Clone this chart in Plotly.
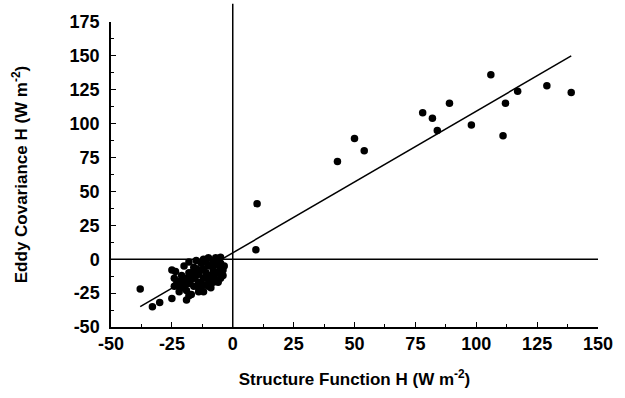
import plotly.graph_objects as go

# Scatter points (Structure Function H, Eddy Covariance H)
sf_h = [43, 50, 54, 78, 82, 84, 89, 98, 106, 111, 112, 117, 129, 139,
        10, 9.5,
        -38, -33, -30, -25, -19, -23.5, -5,
        -25, -24, -23, -22, -21, -20, -20, -19, -18, -18, -17, -16, -16,
        -15, -15, -14, -14, -13, -13, -12, -12, -11, -11, -10, -10, -10,
        -9, -9, -8, -8, -7, -7, -6, -6, -5, -4, -13, -17, -12, -22, -8,
        -21, -19, -17, -15, -13, -11, -9, -7, -5, -4, -6, -8, -10, -12,
        -14, -16, -18, -20, -22, -24, -11, -9, -7, -14, -16, -5, -3.5, -18]
ec_h = [72, 89, 80, 108, 104, 95, 115, 99, 136, 91, 115, 124, 128, 123,
        41, 7,
        -22, -35, -32, -29, -30, -9, 1.5,
        -8, -14, -18, -20, -12, -5, -17, -23, -10, -2, -15, -20, -6,
        -1, -12, -17, -24, -8, -3, -14, 0, -10, -19, -5, -15, 1,
        -12, -21, -8, -2, -15, -4, -10, 0, -7, -12, -22, -26, -24, -16, -17,
        -16, -14, -10, -7, -18, -13, -16, -10, -3, -8, -17, -12, -20, -7,
        -11, -14, -18, -21, -24, -20, -2, -4, 1, -21, -9, -14, -5, -27]

# Regression line end points
fit_x = [-38, 139]
fit_y = [-35, 150]

x_ticks = [-50, -25, 0, 25, 50, 75, 100, 125, 150]
y_ticks = [-50, -25, 0, 25, 50, 75, 100, 125, 150, 175]

font_family = "Liberation Sans, Arial, sans-serif"

fig = go.Figure()
fig.add_trace(go.Scatter(x=fit_x, y=fit_y, mode="lines",
                         line=dict(color="black", width=1.5), showlegend=False))
fig.add_trace(go.Scatter(x=sf_h, y=ec_h, mode="markers",
                         marker=dict(color="black", size=7.5), showlegend=False))

# zero lines
fig.add_shape(type="line", xref="x", yref="y", x0=-50, x1=150, y0=0, y1=0,
              line=dict(color="black", width=1.5))
fig.add_shape(type="line", xref="x", yref="paper", x0=0, x1=0, y0=0, y1=1.06,
              line=dict(color="black", width=1.5))

fig.update_layout(
    width=625, height=398,
    margin=dict(l=111, r=25, t=18, b=70),
    paper_bgcolor="white", plot_bgcolor="white",
    font=dict(family=font_family, color="black"),
)
fig.update_xaxes(
    range=[-50, 150], tickvals=x_ticks, ticktext=[str(v) for v in x_ticks],
    showgrid=False, zeroline=False, showline=True, linecolor="black", linewidth=1.5,
    ticks="inside", ticklen=5, tickwidth=1, tickcolor="black",
    minor=dict(dtick=12.5, ticks="inside", ticklen=3, tickcolor="black"),
    tickfont=dict(size=18, family=font_family, weight="bold"),
    title=dict(text="Structure Function H (W m<sup>-2</sup>)",
               font=dict(size=17, family=font_family, weight="bold"), standoff=20),
)
fig.update_yaxes(
    range=[-50, 175], tickvals=y_ticks, ticktext=[str(v) for v in y_ticks],
    showgrid=False, zeroline=False, showline=True, linecolor="black", linewidth=1.5,
    ticks="inside", ticklen=5, tickwidth=1, tickcolor="black",
    minor=dict(dtick=12.5, ticks="inside", ticklen=3, tickcolor="black"),
    tickfont=dict(size=18, family=font_family, weight="bold"),
    ticklabelstandoff=6,
    title=dict(text="Eddy Covariance H (W m<sup>-2</sup>)",
               font=dict(size=17, family=font_family, weight="bold"), standoff=38),
)

fig.write_html("out.html")
